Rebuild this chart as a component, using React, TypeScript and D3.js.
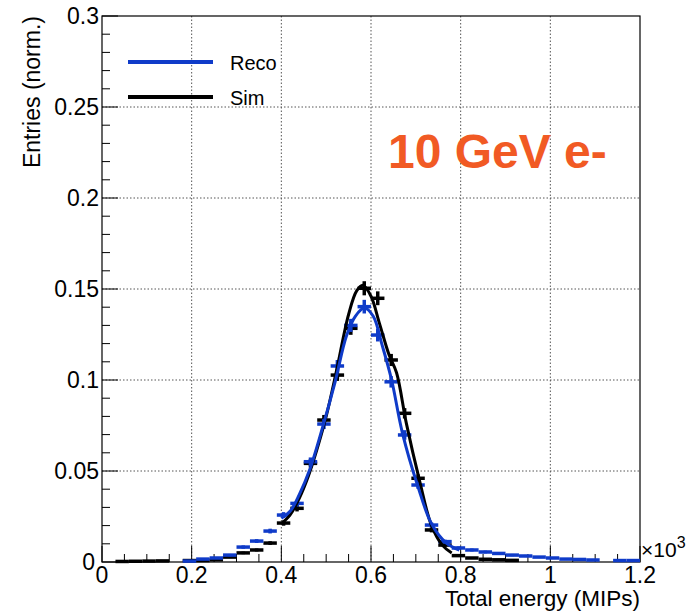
import { useEffect, useRef } from 'react';
import * as d3 from 'd3';

// bin edges: 40 bins of 0.03 (x10^3 MIPs)
const binWidth = 0.03;

const recoValues = [
  0, 0, 0, 0, 0, 0, 0.0005, 0.0016, 0.0022, 0.0038,
  0.0082, 0.0115, 0.017, 0.0258, 0.0322, 0.0551, 0.0758, 0.1077, 0.13, 0.1403,
  0.1247, 0.099, 0.0698, 0.0423, 0.0203, 0.0112, 0.0077, 0.0066, 0.0055, 0.0047,
  0.0038, 0.0033, 0.0027, 0.0022, 0.0016, 0.0014, 0.0011, 0, 0.0008, 0.0008,
];

const simValues = [
  0, 0.0003, 0.0004, 0.0005, 0.0006, 0, 0.0008, 0.0008, 0.0012, 0.0027,
  0.005, 0.0066, 0.0104, 0.0214, 0.0295, 0.0542, 0.078, 0.1027, 0.1284, 0.1504,
  0.1449, 0.111, 0.0817, 0.046, 0.0176, 0.0093, 0.0035, 0.0022, 0.0015, 0.0012,
  0.0009, 0, 0, 0, 0, 0, 0, 0, 0, 0,
];

// fitted curves: [energy, entries]
const recoFit = [
  [0.4, 0.024], [0.42, 0.028], [0.44, 0.037], [0.463, 0.0505], [0.492, 0.074],
  [0.52, 0.099], [0.545, 0.124], [0.565, 0.135], [0.585, 0.1395], [0.605, 0.135],
  [0.625, 0.119], [0.646, 0.1], [0.67, 0.071], [0.704, 0.042], [0.735, 0.021],
  [0.768, 0.0104], [0.797, 0.0066],
];

const simFit = [
  [0.4, 0.021], [0.42, 0.026], [0.44, 0.035], [0.46, 0.047], [0.479, 0.0615],
  [0.5, 0.08], [0.523, 0.105], [0.55, 0.136], [0.568, 0.149], [0.582, 0.152],
  [0.6, 0.146], [0.619, 0.131], [0.64, 0.114], [0.657, 0.104], [0.679, 0.076],
  [0.708, 0.045], [0.735, 0.02], [0.76, 0.009], [0.78, 0.005],
];

const xTicks = [0, 0.2, 0.4, 0.6, 0.8, 1, 1.2];
const yTicks = [0, 0.05, 0.1, 0.15, 0.2, 0.25, 0.3];

const BLUE = '#0f3bc9';
const FONT = '"Liberation Sans", Arial, sans-serif';

const App = () => {
  const ref = useRef<SVGSVGElement>(null);

  useEffect(() => {
    const svg = d3.select(ref.current);
    svg.selectAll('*').remove();

    const left = 102, right = 640, top = 16, bottom = 562;
    const x = d3.scaleLinear().domain([0, 1.2]).range([left, right]);
    const y = d3.scaleLinear().domain([0, 0.3]).range([bottom, top]);

    svg.append('rect').attr('width', 692).attr('height', 611).attr('fill', '#fff');

    // grid
    const grid = svg.append('g')
      .attr('stroke', '#555')
      .attr('stroke-width', 1)
      .attr('stroke-dasharray', '1.5,2');
    grid.selectAll('line.v')
      .data(xTicks.filter(t => t > 0 && t < 1.2))
      .enter().append('line')
      .attr('x1', d => x(d)).attr('x2', d => x(d))
      .attr('y1', top).attr('y2', bottom);
    grid.selectAll('line.h')
      .data(yTicks.filter(t => t > 0 && t < 0.3))
      .enter().append('line')
      .attr('x1', left).attr('x2', right)
      .attr('y1', d => y(d)).attr('y2', d => y(d));

    // ticks
    const ticks = svg.append('g').attr('stroke', '#000').attr('stroke-width', 1);
    d3.range(0, 1.2001, 0.05).forEach((t, i) => {
      const len = i % 4 === 0 ? 16 : 8;
      ticks.append('line')
        .attr('x1', x(t)).attr('x2', x(t))
        .attr('y1', bottom).attr('y2', bottom - len);
    });
    d3.range(0, 0.3001, 0.01).forEach((t, i) => {
      const len = i % 5 === 0 ? 16 : 8;
      ticks.append('line')
        .attr('x1', left).attr('x2', left + len)
        .attr('y1', y(t)).attr('y2', y(t));
    });

    // frame
    svg.append('rect')
      .attr('x', left).attr('y', top)
      .attr('width', right - left).attr('height', bottom - top)
      .attr('fill', 'none').attr('stroke', '#000').attr('stroke-width', 1.2);

    // tick labels
    svg.append('g').selectAll('text')
      .data(xTicks)
      .enter().append('text')
      .attr('x', d => x(d)).attr('y', 582.5)
      .attr('text-anchor', 'middle')
      .attr('font-family', FONT).attr('font-size', 23)
      .text(d => d3.format('')(d));
    svg.append('g').selectAll('text')
      .data(yTicks)
      .enter().append('text')
      .attr('x', d => d === 0 ? 95 : 99).attr('y', d => y(d) + 8)
      .attr('text-anchor', 'end')
      .attr('font-family', FONT).attr('font-size', 23)
      .text(d => d3.format('')(d));

    // exponent
    const exp = svg.append('text')
      .attr('x', 641).attr('y', 557)
      .attr('font-family', FONT).attr('font-size', 21);
    exp.append('tspan').text('\u00d710');
    exp.append('tspan').attr('dy', -9).attr('font-size', 16).text('3');

    // axis titles
    svg.append('text')
      .attr('x', 640).attr('y', 606)
      .attr('text-anchor', 'end')
      .attr('font-family', FONT).attr('font-size', 22.5)
      .text('Total energy (MIPs)');
    svg.append('text')
      .attr('transform', `translate(40, ${top}) rotate(-90)`)
      .attr('text-anchor', 'end')
      .attr('font-family', FONT).attr('font-size', 23)
      .text('Entries (norm.)');

    // histograms with error crosses
    const drawHist = (values, color) => {
      const g = svg.append('g')
        .attr('stroke', color).attr('stroke-width', 3.5);
      values.forEach((v, i) => {
        if (v <= 0) return;
        const lo = i * binWidth, hi = lo + binWidth, c = lo + binWidth / 2;
        const err = Math.sqrt(v * 1e-4);
        g.append('line')
          .attr('x1', x(lo)).attr('x2', x(hi))
          .attr('y1', y(v)).attr('y2', y(v));
        g.append('line')
          .attr('x1', x(c)).attr('x2', x(c))
          .attr('y1', y(v - err)).attr('y2', y(v + err));
      });
    };
    drawHist(simValues, '#000');
    drawHist(recoValues, BLUE);

    const line = d3.line<number[]>()
      .x(d => x(d[0]))
      .y(d => y(d[1]))
      .curve(d3.curveCatmullRom);
    svg.append('path')
      .datum(simFit)
      .attr('d', line)
      .attr('fill', 'none').attr('stroke', '#000').attr('stroke-width', 3);
    svg.append('path')
      .datum(recoFit)
      .attr('d', line)
      .attr('fill', 'none').attr('stroke', BLUE).attr('stroke-width', 3);

    // legend
    const legend = [
      { label: 'Reco', color: BLUE, yPos: 62 },
      { label: 'Sim', color: '#000', yPos: 97 },
    ];
    legend.forEach(l => {
      svg.append('line')
        .attr('x1', 128).attr('x2', 213)
        .attr('y1', l.yPos).attr('y2', l.yPos)
        .attr('stroke', l.color).attr('stroke-width', 4);
      svg.append('text')
        .attr('x', 230).attr('y', l.yPos + 7.5)
        .attr('font-family', FONT).attr('font-size', 20)
        .text(l.label);
    });

    svg.append('text')
      .attr('x', 388).attr('y', 168)
      .attr('font-family', FONT).attr('font-size', 48).attr('font-weight', 'bold')
      .attr('fill', '#f15a24')
      .text('10 GeV e-');
  }, []);

  return (
    <div style={{ position: 'absolute', left: 0, top: 0 }}>
      <svg ref={ref} width={692} height={611} style={{ display: 'block' }}></svg>
    </div>
  );
};

export default App;
